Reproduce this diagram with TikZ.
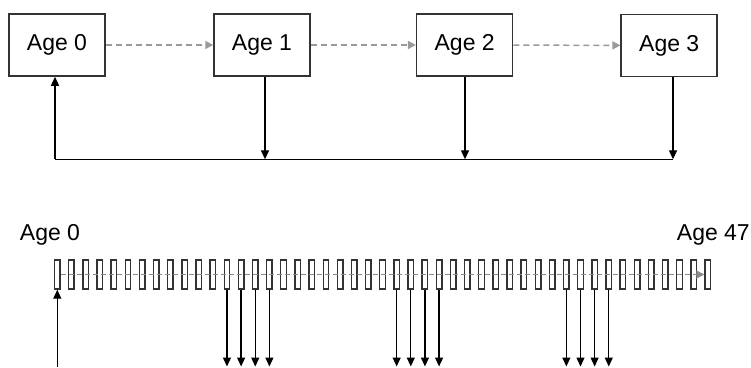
\documentclass[tikz,border=0pt]{standalone}
\usepackage{fontspec}
\setmainfont{Liberation Sans}
\usetikzlibrary{arrows.meta,calc}
\definecolor{boxline}{HTML}{333333}
\definecolor{dashgray}{HTML}{9A9A9A}
\definecolor{celldash}{HTML}{8A8A8A}
\tikzset{
  agebox/.style={draw=boxline, line width=1.5pt, minimum width=96pt, minimum height=62pt, inner sep=0pt,
    font=\fontsize{23}{27}\selectfont},
  cellbox/.style={draw=boxline, line width=1.4pt, minimum width=5.5pt, minimum height=29pt, inner sep=0pt},
  agelabel/.style={inner sep=0pt, font=\fontsize{23}{27}\selectfont},
  flow/.style={draw=dashgray, line width=1.5pt, dash pattern=on 6pt off 4pt, -{Triangle[length=8pt,width=8pt]}, dashgray},
  cellflow/.style={draw=celldash, line width=1.3pt, dash pattern=on 5pt off 3pt, -{Triangle[length=8pt,width=8pt]}, celldash},
  feed/.style={draw=black, line width=1.3pt, -{Triangle[length=9pt,width=8pt]}},
  feedline/.style={draw=black, line width=1.3pt},
  cellfeed/.style={draw=black, line width=1.3pt, -{Triangle[length=9pt,width=8pt]}},
}
\begin{document}
\begin{tikzpicture}[x=1pt,y=-1pt]
\useasboundingbox (0,0) rectangle (751,367);
% top boxes
\node[agebox] (a0) at (57,45) {Age 0};
\node[agebox] (a1) at (262,45) {Age 1};
\node[agebox] (a2) at (464.7,45) {Age 2};
\node[agebox] (a3) at (669.2,45.5) {Age 3};
\draw[flow] (a0) -- (a1);
\draw[flow] (a1) -- (a2);
\draw[flow] (a2) -- (a3);
% feedback line
\coordinate (f0) at (55,159.3);
\coordinate (f1) at (265,159.3);
\coordinate (f2) at (465,159.3);
\coordinate (f3) at (673,159.3);
\draw[feedline] (f0) -- (f3);
\draw[feed] (f1 |- a1.south) -- (f1);
\draw[feed] (f2 |- a2.south) -- (f2);
\draw[feed] (f3 |- a3.south) -- (f3);
\draw[feed] (f0) -- (f0 |- a0.south);
% bottom strip
\node[agelabel, anchor=base] (l0) at (50,240) {Age 0};
\node[agelabel, anchor=base east] (l47) at (750,240) {Age 47};
\foreach \i in {0,...,46} {
  \node[cellbox] (b\i) at ({57.3+\i*14.14},274.5) {};
}
\draw[cellflow] (b0.east) -- (b46.west);
\foreach \i in {12,13,14,15,24,25,26,27,36,37,38,39} {
  \coordinate (d\i) at (b\i.south |- 0,366.5);
  \draw[cellfeed] (b\i.south) -- (d\i);
}
\coordinate (u0) at (b0.south |- 0,367);
\draw[cellfeed] (u0) -- (b0.south);
\end{tikzpicture}
\end{document}
